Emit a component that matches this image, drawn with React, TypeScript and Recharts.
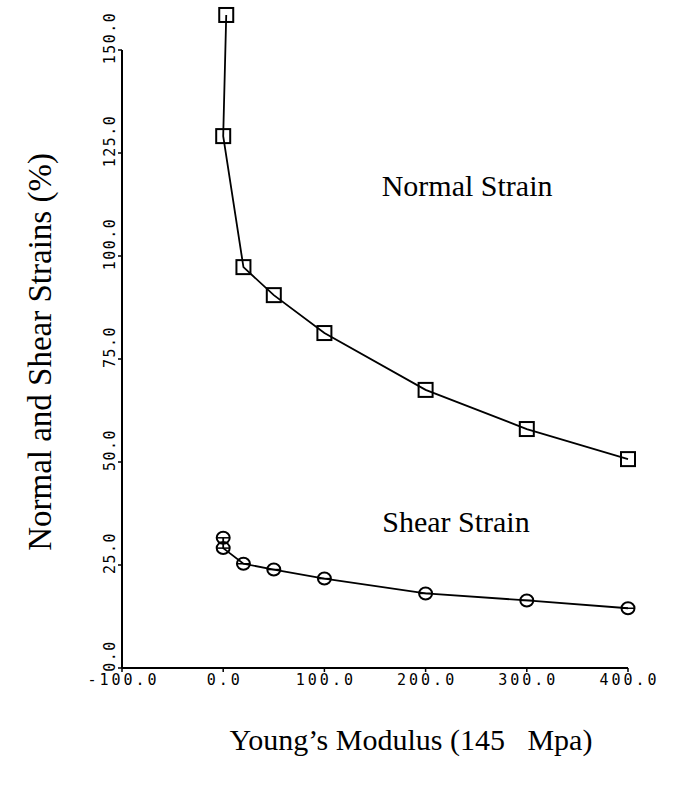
import React from 'react';
import { LineChart, Line, XAxis, YAxis, ReferenceDot, ReferenceLine, Label } from 'recharts';

// Young's modulus values (x) and strains (%)
const normalModulus = [3, 0, 20, 50, 100, 200, 300, 400];
const normalStrain = [158.5, 129.1, 97.3, 90.5, 81.3, 67.5, 58.0, 50.7];
const shearModulus = [0, 0, 20, 50, 100, 200, 300, 400];
const shearStrain = [31.6, 29.1, 25.3, 23.9, 21.7, 18.1, 16.4, 14.5];

const xTicks = [-100, 0, 100, 200, 300, 400];
const yTicks = [0, 25, 50, 75, 100, 125, 150];
const yAxisTop = 150;
const yDomainTop = 160;

const seriesNames = ['Normal Strain', 'Shear Strain'];
const seriesNameX = [241, 230];
const seriesNameY = [117.2, 35.7];

const xTitle = 'Young\u2019s Modulus (145   Mpa)';
const yTitle = 'Normal and Shear Strains (%)';

const normalData = normalModulus.map((x, i) => ({ x, y: normalStrain[i] }));
const shearData = shearModulus.map((x, i) => ({ x, y: shearStrain[i] }));

const SERIF = '"Liberation Serif", "Times New Roman", serif';
const MONO = '"DejaVu Sans Mono", "Liberation Mono", monospace';

const SquareDot = (props: any) => {
  const { cx, cy, index } = props;
  if (cx == null || cy == null) return null;
  return (
    <rect key={`sq-${index}`} x={cx - 7} y={cy - 7} width={14} height={14}
      fill="none" stroke="#000" strokeWidth={2} />
  );
};

const CircleDot = (props: any) => {
  const { cx, cy, index } = props;
  if (cx == null || cy == null) return null;
  return (
    <g key={`ci-${index}`}>
      <ellipse cx={cx} cy={cy} rx={6.5} ry={6} fill="none" stroke="#000" strokeWidth={2} />
      <line x1={cx - 6} x2={cx + 6} y1={cy} y2={cy} stroke="#000" strokeWidth={1.5} />
    </g>
  );
};

const XTick = (props: any) => {
  const { x, y, payload } = props;
  return (
    <text x={x + 1.5} y={y + 6} textAnchor="middle" dominantBaseline="central"
      fontFamily={MONO} fontSize={15} letterSpacing={3} fill="#000">
      {Number(payload.value).toFixed(1)}
    </text>
  );
};

const YTick = (props: any) => {
  const { x, y, payload } = props;
  const tx = x - 6;
  const ty = y - 12;
  return (
    <text x={tx} y={ty} transform={`rotate(-90, ${tx}, ${ty})`} textAnchor="middle"
      dominantBaseline="central" fontFamily={MONO} fontSize={15} letterSpacing={1.5} fill="#000">
      {Number(payload.value).toFixed(1)}
    </text>
  );
};

const XTitle = (props: any) => {
  const vb = props.viewBox || {};
  const cx = vb.x + vb.width / 2 + 36;
  const by = vb.y + 82;
  return (
    <text x={cx} y={by} textAnchor="middle" fontFamily={SERIF} fontSize={30}
      fill="#000" style={{ whiteSpace: 'pre' }}>
      {xTitle}
    </text>
  );
};

const YTitle = (props: any) => {
  const vb = props.viewBox || {};
  const cx = vb.x + 40;
  const cy = 352;
  return (
    <text x={cx} y={cy} transform={`rotate(-90, ${cx}, ${cy})`} textAnchor="middle"
      dominantBaseline="central" fontFamily={SERIF} fontSize={33} fill="#000">
      {yTitle}
    </text>
  );
};

export default function App() {
  return (
    <div style={{ position: 'absolute', left: 0, top: 0, background: '#fff' }}>
      <LineChart width={675} height={791} margin={{ top: 8.8, right: 47, bottom: 93, left: 0 }}>
        <XAxis dataKey="x" type="number" domain={[-100, 400]} ticks={xTicks}
          height={30} axisLine={{ stroke: '#000', strokeWidth: 2 }}
          tickLine={{ stroke: '#000', strokeWidth: 1.5 }} tickSize={4} tickMargin={2}
          tick={<XTick />} interval={0}>
          <Label content={<XTitle />} />
        </XAxis>
        <YAxis type="number" domain={[0, yDomainTop]} ticks={yTicks} width={122}
          axisLine={false}
          tickLine={{ stroke: '#000', strokeWidth: 1.5 }} tickSize={4} tickMargin={2}
          tick={<YTick />} interval={0}>
          <Label content={<YTitle />} />
        </YAxis>
        <ReferenceLine segment={[{ x: xTicks[0], y: 0 }, { x: xTicks[0], y: yAxisTop }]}
          stroke="#000" strokeWidth={2} />
        <Line data={normalData} dataKey="y" type="linear" stroke="#000" strokeWidth={1.8}
          dot={<SquareDot />} activeDot={false} isAnimationActive={false} />
        <Line data={shearData} dataKey="y" type="linear" stroke="#000" strokeWidth={1.8}
          dot={<CircleDot />} activeDot={false} isAnimationActive={false} />
        {seriesNames.map((name, i) => (
          <ReferenceDot key={name} x={seriesNameX[i]} y={seriesNameY[i]} r={0}
            fill="none" stroke="none"
            label={{ value: name, position: 'center', fontSize: 30, fontFamily: SERIF, fill: '#000' }} />
        ))}
      </LineChart>
    </div>
  );
}
